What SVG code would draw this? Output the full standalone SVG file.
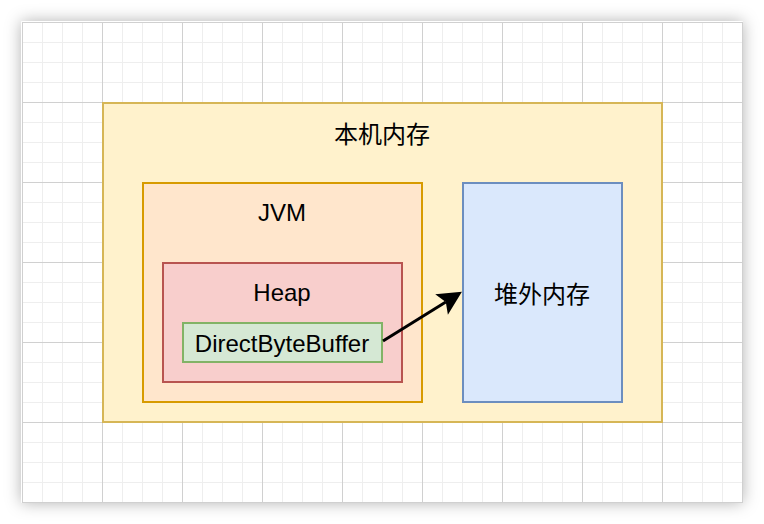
<svg xmlns="http://www.w3.org/2000/svg" width="764" height="524" viewBox="0 0 764 524">
  <style>
    .t { font-family: "Liberation Sans", Helvetica, Arial, "Noto Sans CJK SC", sans-serif; font-size: 24px; fill: #000; text-anchor: middle; }
  </style>
  <defs>
    <filter id="shadow" x="-10%" y="-10%" width="120%" height="120%">
      <feDropShadow dx="0" dy="0" stdDeviation="8" flood-color="#000" flood-opacity="0.3"/>
    </filter>
    <pattern id="grid" x="22" y="22" width="80" height="80" patternUnits="userSpaceOnUse">
      <path d="M20.5 0V80M40.5 0V80M60.5 0V80M0 20.5H80M0 40.5H80M0 60.5H80" stroke="#eeeeee" stroke-width="1" fill="none"/>
      <path d="M0.5 0V80M0 0.5H80" stroke="#d0d0d0" stroke-width="1" fill="none"/>
    </pattern>
    <marker id="arrow" markerUnits="userSpaceOnUse" viewBox="-26 -14 30 28" refX="-19" refY="0" markerWidth="30" markerHeight="28" orient="auto">
      <path d="M0 0L-24 -12L-19 0L-24 12Z" fill="#000"/>
    </marker>
  </defs>
  <rect x="0" y="0" width="764" height="524" fill="#ffffff"/>
  <rect x="21" y="21" width="722" height="482" rx="2" fill="#ffffff" filter="url(#shadow)"/>
  <rect x="22" y="22" width="721" height="481" fill="url(#grid)"/>
  <g id="native-memory">
    <rect x="103" y="103" width="559" height="319" fill="#fff2cc" stroke="#d6b656" stroke-width="2"/>
    <text class="t" x="382" y="143">本机内存</text>
  </g>
  <g id="jvm">
    <rect x="143" y="183" width="279" height="219" fill="#ffe6cc" stroke="#d79b00" stroke-width="2"/>
    <text class="t" x="282" y="221">JVM</text>
  </g>
  <g id="heap">
    <rect x="163" y="263" width="239" height="119" fill="#f8cecc" stroke="#b85450" stroke-width="2"/>
    <text class="t" x="282" y="301">Heap</text>
  </g>
  <g id="direct-byte-buffer">
    <rect x="183" y="323" width="199" height="39" fill="#d5e8d4" stroke="#82b366" stroke-width="2"/>
    <text class="t" x="282" y="352">DirectByteBuffer</text>
  </g>
  <g id="off-heap">
    <rect x="463" y="183" width="159" height="219" fill="#dae8fc" stroke="#6c8ebf" stroke-width="2"/>
    <text class="t" x="542" y="303">堆外内存</text>
  </g>
  <g id="connectors">
    <line x1="383" y1="341" x2="445.8" y2="301.9" stroke="#000" stroke-width="3" marker-end="url(#arrow)"/>
  </g>
</svg>
